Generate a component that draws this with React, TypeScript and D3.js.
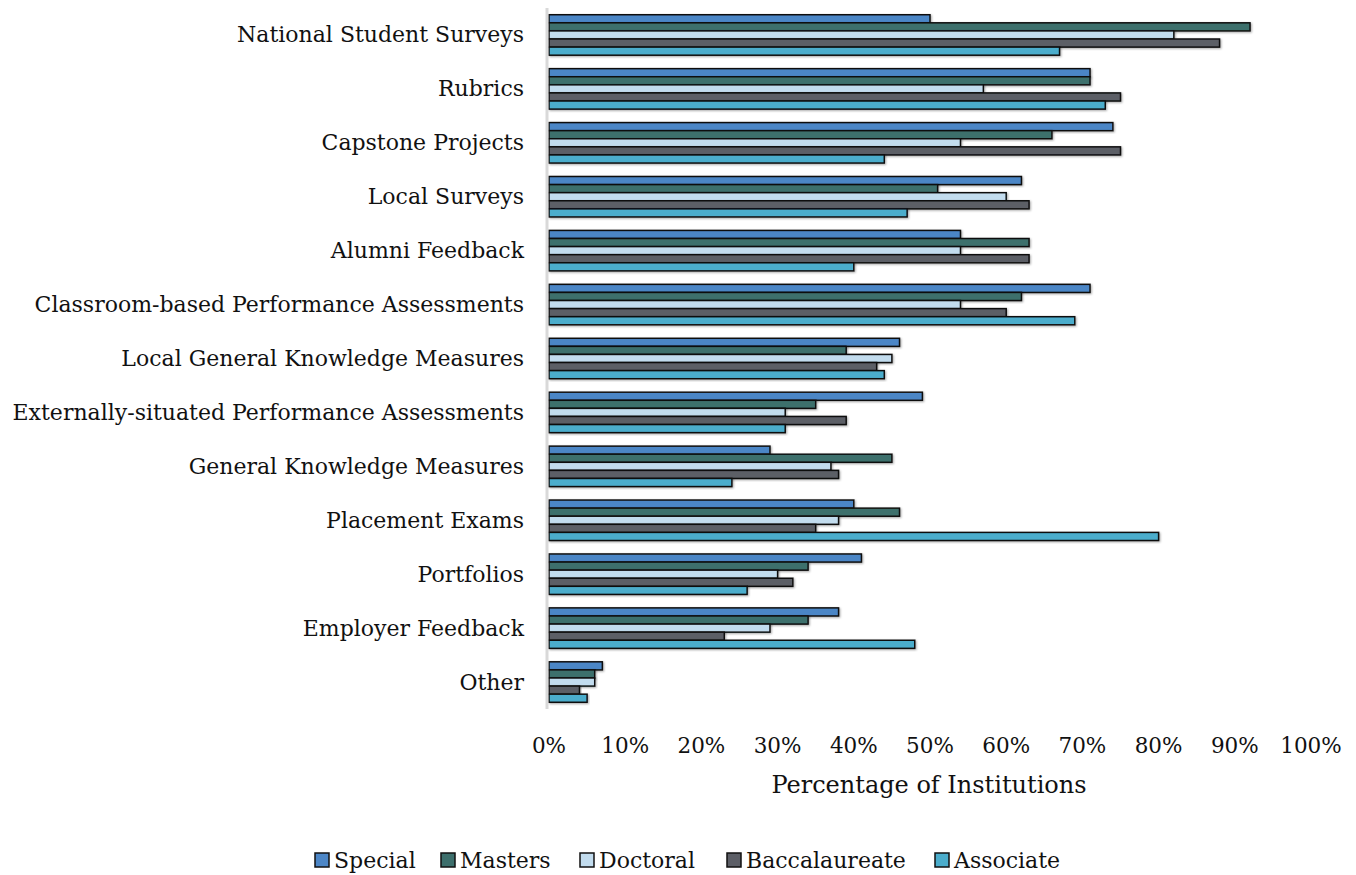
import React from "react";
import * as d3 from "d3";

const categories = [
  "National Student Surveys",
  "Rubrics",
  "Capstone Projects",
  "Local Surveys",
  "Alumni Feedback",
  "Classroom-based Performance Assessments",
  "Local General Knowledge Measures",
  "Externally-situated Performance Assessments",
  "General Knowledge Measures",
  "Placement Exams",
  "Portfolios",
  "Employer Feedback",
  "Other",
];

const seriesNames = ["Special", "Masters", "Doctoral", "Baccalaureate", "Associate"];

const special = [50, 71, 74, 62, 54, 71, 46, 49, 29, 40, 41, 38, 7];
const masters = [92, 71, 66, 51, 63, 62, 39, 35, 45, 46, 34, 34, 6];
const doctoral = [82, 57, 54, 60, 54, 54, 45, 31, 37, 38, 30, 29, 6];
const baccalaureate = [88, 75, 75, 63, 63, 60, 43, 39, 38, 35, 32, 23, 4];
const associate = [67, 73, 44, 47, 40, 69, 44, 31, 24, 80, 26, 48, 5];

const seriesValues = [special, masters, doctoral, baccalaureate, associate];
const colors = ["#4c86c6", "#3d6f6c", "#c2dcee", "#5c5e66", "#4badcc"];

const xTicks = [0, 10, 20, 30, 40, 50, 60, 70, 80, 90, 100];

const FONT = "'DejaVu Serif', serif";

export default function App() {
  const W = 1356;
  const H = 875;
  const x = d3.scaleLinear().domain([0, 100]).range([549, 1311]);
  const y = d3.scaleBand<string>().domain(categories).range([8, 709]).paddingInner(0.25).paddingOuter(0.125);
  const inner = d3.scaleBand<string>().domain(seriesNames).range([0, y.bandwidth()]);

  const legendX = [315, 441, 580, 727, 935];

  return (
    <svg width={W} height={H} style={{ position: "absolute", left: 0, top: 0, background: "#fff" }}>
      <defs>
        <filter id="sh" x="-5%" y="-40%" width="110%" height="180%">
          <feDropShadow dx="1" dy="1" stdDeviation="0.8" floodColor="#000" floodOpacity="0.35" />
        </filter>
      </defs>
      {categories.map((c, ci) => (
        <g key={c} transform={`translate(0,${y(c)})`}>
          {seriesNames.map((s, si) => (
            <rect
              key={s}
              x={x(0)}
              y={inner(s)}
              width={x(seriesValues[si][ci]) - x(0)}
              height={inner.bandwidth()}
              fill={colors[si]}
              stroke="#111"
              strokeWidth={1.5}
              filter="url(#sh)"
            />
          ))}
        </g>
      ))}
      <line x1={547} x2={547} y1={8} y2={709} stroke="#d9d9d9" strokeWidth={3} />
      {categories.map((c) => (
        <text
          key={c}
          x={524}
          y={(y(c) as number) + y.bandwidth() / 2}
          textAnchor="end"
          dominantBaseline="central"
          fontFamily={FONT}
          fontSize={22}
          fill="#111"
        >
          {c}
        </text>
      ))}
      {xTicks.map((t) => (
        <text
          key={t}
          x={x(t)}
          y={745}
          textAnchor="middle"
          dominantBaseline="central"
          fontFamily={FONT}
          fontSize={21.5}
          fill="#111"
        >
          {`${t}%`}
        </text>
      ))}
      <text x={929} y={785} textAnchor="middle" dominantBaseline="central" fontFamily={FONT} fontSize={24} fill="#111">
        Percentage of Institutions
      </text>
      {seriesNames.map((s, si) => (
        <g key={s} transform={`translate(${legendX[si]},860)`}>
          <rect x={0} y={-7} width={14} height={14} fill={colors[si]} stroke="#111" strokeWidth={1.5} />
          <text x={19} y={0} dominantBaseline="central" fontFamily={FONT} fontSize={22} fill="#111">
            {s}
          </text>
        </g>
      ))}
    </svg>
  );
}
